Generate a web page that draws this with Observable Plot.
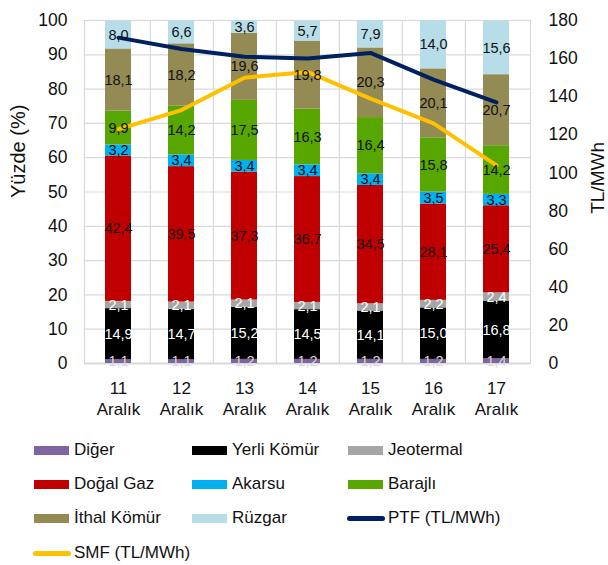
<!DOCTYPE html>
<html>
<head>
<meta charset="utf-8">
<script src="https://cdn.jsdelivr.net/npm/d3@7"></script>
<script src="https://cdn.jsdelivr.net/npm/@observablehq/plot@0.6"></script>
<style>
  body { margin: 0; background: #fff; }
  #wrap { position: relative; width: 608px; height: 565px; font-family: "Liberation Sans", Arial, sans-serif; }
  .lg { position: absolute; font-size: 17px; color: #111; line-height: 1; white-space: nowrap; }
  .sw { position: absolute; }
</style>
</head>
<body>
<div id="wrap"></div>
<script>
const days = ["11", "12", "13", "14", "15", "16", "17"];
const cats = ["Diğer", "Yerli Kömür", "Jeotermal", "Doğal Gaz", "Akarsu", "Barajlı", "İthal Kömür", "Rüzgar"];
const diger      = [1.1, 1.1, 1.2, 1.2, 1.2, 1.2, 1.4];
const yerliKomur = [14.9, 14.7, 15.2, 14.5, 14.1, 15.0, 16.8];
const jeotermal  = [2.1, 2.1, 2.1, 2.1, 2.1, 2.2, 2.4];
const dogalGaz   = [42.4, 39.5, 37.3, 36.7, 34.5, 28.1, 25.4];
const akarsu     = [3.2, 3.4, 3.4, 3.4, 3.4, 3.5, 3.3];
const barajli    = [9.9, 14.2, 17.5, 16.3, 16.4, 15.8, 14.2];
const ithalKomur = [18.1, 18.2, 19.6, 19.8, 20.3, 20.1, 20.7];
const ruzgar     = [8.0, 6.6, 3.6, 5.7, 7.9, 14.0, 15.6];
const ptf = [171, 165, 161, 160, 163, 149, 137];
const smf = [123, 133, 150, 153, 139, 126, 104];
const rightTicks = [0, 20, 40, 60, 80, 100, 120, 140, 160, 180];

const seriesValues = [diger, yerliKomur, jeotermal, dogalGaz, akarsu, barajli, ithalKomur, ruzgar];
const colors = ["#8064a2", "#000000", "#a6a6a6", "#c00000", "#00b0f0", "#58a600", "#948a54", "#b7dde8"];
const labelColors = ["#d9d9d9", "#ffffff", "#ffffff", "#111", "#111", "#111", "#111", "#111"];

const rows = [];
cats.forEach((c, i) => days.forEach((d, j) => rows.push({day: d, cat: c, value: seriesValues[i][j], ci: i})));
const ptfRows = days.map((d, j) => ({day: d, v: ptf[j]}));
const smfRows = days.map((d, j) => ({day: d, v: smf[j]}));
const k = 100 / 180;

const W = 608, H = 425, mL = 84, mR = 78, mT = 20, mB = 62;
const step = (W - mL - mR) / days.length;

const chart = Plot.plot({
  width: W, height: H,
  marginLeft: mL, marginRight: mR, marginTop: mT, marginBottom: mB,
  style: {fontFamily: "Liberation Sans, Arial, sans-serif", fontSize: "17px", color: "#111", background: "#fff"},
  x: {domain: days, paddingInner: 0.59, paddingOuter: 0.295, axis: null},
  y: {domain: [0, 100], axis: null},
  color: {type: "identity"},
  marks: [
    Plot.gridY(d3.range(0, 101, 10), {stroke: "#d9d9d9", strokeOpacity: 1, strokeWidth: 1.2}),
    Plot.ruleX(days.slice(0, -1), {x: d => d, dx: step / 2, stroke: "#d9d9d9", strokeWidth: 1.2}),
    Plot.frame({stroke: "#d9d9d9", strokeWidth: 1.2}),
    Plot.ruleY([0], {stroke: "#d9d9d9", strokeWidth: 2}),
    Plot.barY(rows, {x: "day", y: "value", z: "cat", order: cats, fill: d => colors[d.ci]}),
    Plot.line(ptfRows, {x: "day", y: d => d.v * k, stroke: "#002060", strokeWidth: 4}),
    Plot.line(smfRows, {x: "day", y: d => d.v * k, stroke: "#ffc000", strokeWidth: 4}),
    Plot.text(rows, Plot.stackY({x: "day", y: "value", z: "cat", order: cats,
      text: d => d.value.toFixed(1).replace(".", ","), fill: d => labelColors[d.ci], fontSize: 14.5})),
    Plot.axisX({tickSize: 0, tickPadding: 15, fontSize: 17, lineHeight: 1.25, label: null, tickFormat: d => d + "\nAralık"}),
    Plot.axisY({anchor: "left", ticks: d3.range(0, 101, 10), tickSize: 0, tickPadding: 17, fontSize: 17.5, label: null}),
    Plot.axisY({anchor: "right", ticks: rightTicks.map(v => v * k), tickFormat: d => String(Math.round(d / k)),
      tickSize: 0, tickPadding: 18, fontSize: 17.5, label: null}),
    Plot.text(["Yüzde (%)"], {frameAnchor: "left", dx: -66, dy: 6, rotate: -90, fontSize: 20, fill: "#111"}),
    Plot.text(["TL/MWh"], {frameAnchor: "right", dx: 67, dy: -50, rotate: -90, fontSize: 19, fill: "#111"})
  ]
});

const wrap = document.getElementById("wrap");
wrap.appendChild(chart);

const legendItems = [
  {label: "Diğer", color: colors[0], type: "rect", x: 34, y: 450},
  {label: "Yerli Kömür", color: colors[1], type: "rect", x: 192, y: 450},
  {label: "Jeotermal", color: colors[2], type: "rect", x: 348, y: 450},
  {label: "Doğal Gaz", color: colors[3], type: "rect", x: 34, y: 484},
  {label: "Akarsu", color: colors[4], type: "rect", x: 192, y: 484},
  {label: "Barajlı", color: colors[5], type: "rect", x: 348, y: 484},
  {label: "İthal Kömür", color: colors[6], type: "rect", x: 34, y: 518},
  {label: "Rüzgar", color: colors[7], type: "rect", x: 192, y: 518},
  {label: "PTF (TL/MWh)", color: "#002060", type: "line", x: 347, y: 518},
  {label: "SMF (TL/MWh)", color: "#ffc000", type: "line", x: 33, y: 553}
];
legendItems.forEach(it => {
  const sw = document.createElement("div");
  sw.className = "sw";
  if (it.type === "rect") {
    Object.assign(sw.style, {left: it.x + "px", top: (it.y - 4.5) + "px", width: "35px", height: "9px", background: it.color});
  } else {
    Object.assign(sw.style, {left: it.x + "px", top: (it.y - 2.5) + "px", width: "38px", height: "5px", background: it.color, borderRadius: "3px"});
  }
  wrap.appendChild(sw);
  const t = document.createElement("div");
  t.className = "lg";
  t.textContent = it.label;
  Object.assign(t.style, {left: (it.x + (it.type === "rect" ? 40 : 41)) + "px", top: (it.y - 9.5) + "px"});
  wrap.appendChild(t);
});
</script>
</body>
</html>
